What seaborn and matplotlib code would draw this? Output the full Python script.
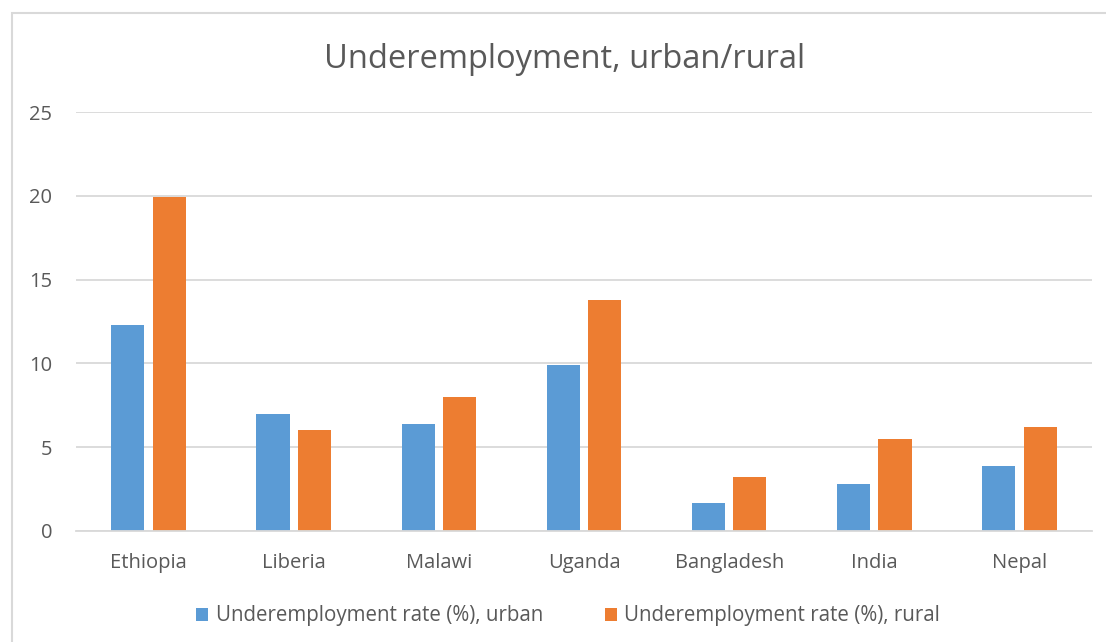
import matplotlib
matplotlib.use("Agg")
import matplotlib.pyplot as plt
from matplotlib.patches import Rectangle
import pandas as pd
import seaborn as sns

countries = ["Ethiopia", "Liberia", "Malawi", "Uganda", "Bangladesh", "India", "Nepal"]
urban = [12.3, 7.0, 6.4, 9.9, 1.7, 2.8, 3.9]
rural = [19.9, 6.0, 8.0, 13.8, 3.2, 5.5, 6.2]
series_names = ["Underemployment rate (%), urban", "Underemployment rate (%), rural"]
y_ticks = [0, 5, 10, 15, 20, 25]

df = pd.DataFrame({
    "country": countries * 2,
    "rate": urban + rural,
    "series": [series_names[0]] * len(countries) + [series_names[1]] * len(countries),
})

sns.set_theme(style="white")
plt.rcParams["font.family"] = ["Open Sans", "DejaVu Sans"]
text_color = "#595959"
grid_color = "#D9D9D9"

fig = plt.figure(figsize=(11.06, 6.42), dpi=100)
ax = fig.add_axes([76 / 1106, 1 - 531 / 642, 1016 / 1106, 419 / 642])

sns.barplot(
    data=df, x="country", y="rate", hue="series", order=countries,
    hue_order=series_names, palette=["#5B9BD5", "#ED7D31"],
    width=0.57, gap=0.2, saturation=1, errorbar=None, ax=ax,
    edgecolor="none", linewidth=0,
)

ax.set_xlim(-0.5, len(countries) - 0.5)
ax.set_ylim(0, 25)
ax.set_yticks(y_ticks)
ax.yaxis.grid(True, color=grid_color, linewidth=1.3)
ax.set_axisbelow(True)
for side in ["top", "right", "left"]:
    ax.spines[side].set_visible(False)
ax.spines["bottom"].set_color(grid_color)
ax.spines["bottom"].set_linewidth(1.3)
ax.set_xlabel("")
ax.set_ylabel("")
ax.tick_params(axis="both", length=0, labelsize=14.5, colors=text_color)
ax.tick_params(axis="x", pad=16)
ax.tick_params(axis="y", pad=17)

fig.text(565 / 1106, 1 - 60 / 642, "Underemployment, urban/rural",
         ha="center", va="center", fontsize=23.5, color=text_color,
         fontweight="normal")

handles, labels = ax.get_legend_handles_labels()
ax.legend(handles, labels, loc="center", bbox_to_anchor=(568 / 1106, 1 - 616 / 642),
          bbox_transform=fig.transFigure, ncol=2, frameon=False,
          fontsize=14.8, labelcolor=text_color, handlelength=0.6,
          handleheight=0.6, handletextpad=0.35, columnspacing=3.0)

# chart frame
fig.patches.append(Rectangle((12 / 1106, -0.05), 1.2, 1 - 13 / 642 + 0.05,
                             transform=fig.transFigure, fill=False,
                             edgecolor=grid_color, linewidth=1.5, zorder=0))

fig.savefig("out.png", dpi=100)
